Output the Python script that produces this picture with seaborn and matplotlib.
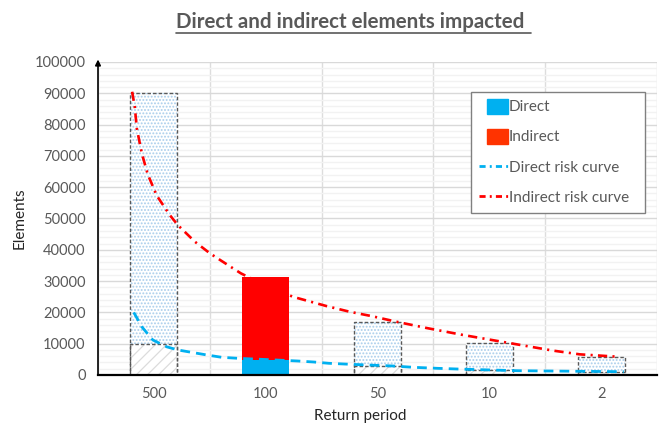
import matplotlib
matplotlib.use("Agg")
import matplotlib.pyplot as plt
import seaborn as sns
import numpy as np
from matplotlib.patches import Patch, Rectangle
from matplotlib.lines import Line2D
from matplotlib.legend_handler import HandlerPatch
from matplotlib.ticker import MultipleLocator

# ---------------- data ----------------
return_periods = ["500", "100", "50", "10", "2"]
direct_elements = [10000, 4800, 3000, 1500, 1000]
indirect_elements = [90000, 31200, 16900, 10100, 5800]
highlighted_period = "100"

# risk curves (x in category units)
indirect_curve_x = [-0.195, -0.171, -0.153, -0.108, -0.055, 0.026, 0.142, 0.214, 0.366,
                    0.5, 0.607, 0.777, 0.849, 1.242, 1.546, 1.752, 1.949, 2.172, 2.441,
                    2.763, 3.165, 3.568, 3.809, 4.167]
indirect_curve_y = [90500, 85700, 78800, 70800, 64100, 57300, 51100, 47900, 42600,
                    38900, 36400, 32500, 31200, 25000, 22000, 20200, 18800, 17000, 15000,
                    12800, 10300, 7800, 6600, 5800]
direct_curve_x = [-0.18, -0.108, -0.010, 0.115, 0.214, 0.473, 0.607, 0.768, 0.902, 1.028,
                  1.287, 1.430, 1.564, 1.708, 1.904, 2.137, 2.325, 2.539, 2.727, 3.022,
                  3.255, 3.523, 3.765, 4.203]
direct_curve_y = [20000, 15400, 11200, 9000, 8000, 6400, 5650, 5300, 5100, 4900,
                  4470, 4150, 3740, 3500, 3200, 2880, 2450, 2130, 1900, 1600,
                  1370, 1280, 1200, 1050]

y_ticks = list(range(0, 100001, 10000))
title = "Direct and indirect elements impacted"
legend_labels = ["Direct", "Indirect", "Direct risk curve", "Indirect risk curve"]

# ---------------- style ----------------
sns.set_theme(style="white")
plt.rcParams['font.family'] = ['Lato', 'DejaVu Sans']
plt.rcParams['hatch.linewidth'] = 0.9

BLUE = "#00B0F0"
RED = "#FF0000"
GREY_TXT = "#595959"

fig = plt.figure(figsize=(6.61, 4.29), dpi=100)
ax = fig.add_axes([98 / 661, 1 - 375 / 429, 559 / 661, 313 / 429])

BAR_W = 0.42


def new_bars(values, **kw):
    n0 = len(ax.patches)
    sns.barplot(x=return_periods, y=values, order=return_periods, color="white",
                width=BAR_W, saturation=1, errorbar=None, ax=ax, **kw)
    ps = ax.patches[n0:]
    ps = sorted(ps, key=lambda p: p.get_x())
    return ps


# indirect (background) bars
for p, cat in zip(new_bars(indirect_elements), return_periods):
    if cat == highlighted_period:
        p.set_facecolor(RED)
        p.set_edgecolor(RED)
        p.set_linewidth(0)
    else:
        p.set_facecolor("white")
        p.set_hatch(".....")
        p.set_edgecolor("#A9CDEB")
        p.set_linewidth(0)

# direct bars
for p, cat in zip(new_bars(direct_elements), return_periods):
    if cat == highlighted_period:
        p.set_facecolor(BLUE)
        p.set_edgecolor(BLUE)
        p.set_linewidth(0)
    else:
        p.set_facecolor("white")
        p.set_hatch("///")
        p.set_edgecolor("#DCDCDC")
        p.set_linewidth(0)

# dashed outlines
for vals in (indirect_elements, direct_elements):
    for p, cat in zip(new_bars(vals), return_periods):
        if cat == highlighted_period:
            p.set_visible(False)
        else:
            p.set_facecolor("none")
            p.set_hatch(None)
            p.set_edgecolor("#595959")
            p.set_linewidth(1.0)
            p.set_linestyle((0, (2.5, 1.5)))

# risk curves
sns.lineplot(x=indirect_curve_x, y=indirect_curve_y, color=RED, linewidth=1.9,
             sort=False, errorbar=None, ax=ax)
ax.lines[-1].set_linestyle((0, (3.5, 2.0, 0.8, 2.0)))
sns.lineplot(x=direct_curve_x, y=direct_curve_y, color=BLUE, linewidth=2.0,
             sort=False, errorbar=None, ax=ax)
ax.lines[-1].set_linestyle((0, (3.5, 2.2)))

# ---------------- axes ----------------
ax.set_xlim(-0.5, 4.5)
ax.set_ylim(0, 100000)
ax.set_yticks(y_ticks, labels=[str(v) for v in y_ticks])
ax.yaxis.set_minor_locator(MultipleLocator(2000))
ax.set_xticks(np.arange(-0.5, 5, 1), minor=True)
ax.set_axisbelow(True)
ax.grid(which="major", axis="y", color="#D9D9D9", linewidth=1)
ax.grid(which="minor", axis="y", color="#F2F2F2", linewidth=1)
ax.grid(which="minor", axis="x", color="#DDDDDD", linewidth=1)
ax.grid(which="major", axis="x", visible=False)

ax.tick_params(axis="both", which="both", length=0, colors=GREY_TXT, labelsize=10.5)
ax.tick_params(axis="y", pad=9)
ax.tick_params(axis="x", pad=9)

for s in ("top", "right", "left"):
    ax.spines[s].set_visible(False)
ax.spines["bottom"].set_color("black")
ax.spines["bottom"].set_linewidth(1.6)

ax.annotate("", xy=(0, 1.008), xytext=(0, 0), xycoords="axes fraction",
            arrowprops=dict(arrowstyle="-|>", color="black", lw=1.2,
                            mutation_scale=8, shrinkA=0, shrinkB=0))

ax.set_xlabel("Return period", fontsize=11, color="#262626")
ax.set_ylabel("Elements", fontsize=11, color="#262626")
ax.xaxis.set_label_coords(0.469, -0.108)
ax.yaxis.set_label_coords(-0.128, 0.5)


# legend
def small_square(legend, orig_handle, xdescent, ydescent, width, height, fontsize):
    return Rectangle((-xdescent + 0.26 * width, -ydescent - 0.2 * height),
                     0.72 * width, 1.4 * height)


handles = [
    Patch(facecolor=BLUE, edgecolor=BLUE),
    Patch(facecolor="#FF3300", edgecolor="#FF3300"),
    Line2D([], [], color=BLUE, lw=2, linestyle=(0, (2.2, 1.5, 0.7, 1.5))),
    Line2D([], [], color=RED, lw=2, linestyle=(0, (2.2, 1.5, 0.7, 1.5))),
]
leg = ax.legend(handles, legend_labels, loc="upper left",
                bbox_to_anchor=(0.667, 0.502, 0.312, 0.402), mode="expand",
                frameon=True, fancybox=False, edgecolor="#808080", framealpha=1,
                fontsize=11, labelcolor=GREY_TXT, handlelength=1.9,
                handletextpad=0.05, labelspacing=1.05, borderpad=0.55,
                borderaxespad=0,
                handler_map={Patch: HandlerPatch(patch_func=small_square)})
leg.get_frame().set_linewidth(1.0)

# title with underline
t = fig.text(0.53, 1 - 28 / 429, title, ha="center", va="baseline",
             fontsize=14.8, fontweight="bold", color=GREY_TXT)
fig.canvas.draw()
bb = t.get_window_extent()
W, H = fig.canvas.get_width_height()
uy = 1 - 33 / 429
fig.add_artist(Line2D([bb.x0 / W, (bb.x1 + 6) / W], [uy, uy], transform=fig.transFigure,
                      color=GREY_TXT, lw=1.2))

fig.savefig("out.png", dpi=100)
